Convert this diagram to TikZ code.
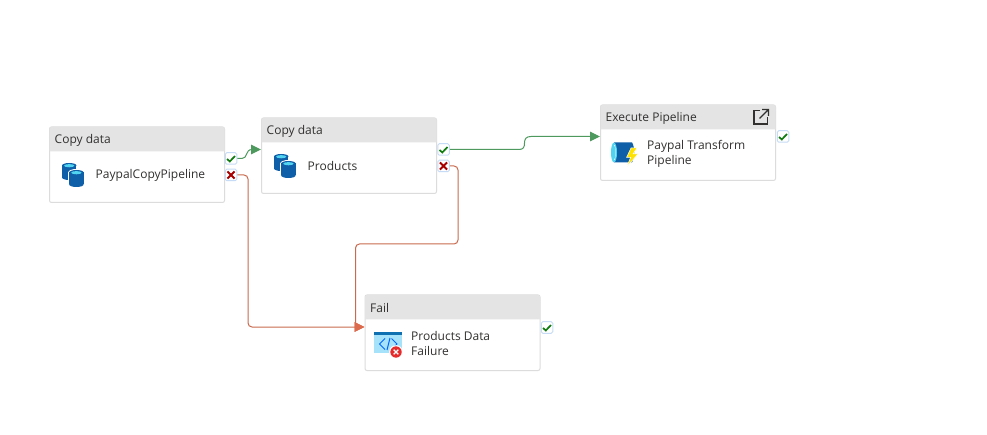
\documentclass[tikz,border=0pt]{standalone}
\usepackage{fontspec}
\setmainfont{Open Sans}
\usetikzlibrary{arrows.meta,calc}
\definecolor{hdr}{HTML}{E4E4E4}
\definecolor{edge}{HTML}{DCDCDC}
\definecolor{ink}{HTML}{323130}
\definecolor{okc}{HTML}{107C10}
\definecolor{badc}{HTML}{A80000}
\definecolor{okline}{HTML}{4E9A5E}
\definecolor{failline}{HTML}{C96A4E}
\definecolor{failhead}{HTML}{DB6B4C}
\definecolor{cyl}{HTML}{0F5FA8}
\definecolor{cyltop}{HTML}{50D4F0}
\definecolor{badgeedge}{HTML}{C6DBF5}
\tikzset{
  x=1pt,y=-1pt,
  actbox/.style={draw=edge,line width=1pt,fill=white,rounded corners=2pt,minimum width=175pt,minimum height=75.5pt,inner sep=0pt,anchor=north west},
  hdrtxt/.style={anchor=west,font=\fontsize{12}{14}\selectfont,text=ink,inner sep=0pt},
  bodytxt/.style={anchor=west,align=left,font=\fontsize{12}{15}\selectfont,text=ink,inner sep=0pt},
  badge/.style={draw=badgeedge,fill=white,line width=1pt,rounded corners=1.5pt,minimum size=11.5pt,inner sep=0pt},
  okpath/.style={draw=okline,line width=1pt},
  failpath/.style={draw=failline,line width=1pt,rounded corners=4pt},
  okarrow/.style={okpath,-{Triangle[length=10pt,width=9.5pt]}},
  failarrow/.style={failpath,-{Triangle[length=10pt,width=9.5pt,color=failhead]}},
}
\newcommand{\hdrband}[1]{%
  \fill[hdr,rounded corners=1.5pt] ([xshift=.5pt,yshift=-25pt]#1.north west) [sharp corners] -- ([xshift=.5pt,yshift=-12pt]#1.north west) [rounded corners=1.5pt] -- ([xshift=.5pt,yshift=-.5pt]#1.north west)
    -- ([xshift=-.5pt,yshift=-.5pt]#1.north east) -- ([xshift=-.5pt,yshift=-12pt]#1.north east) [sharp corners] -- ([xshift=-.5pt,yshift=-25pt]#1.north east) -- cycle;}
\newcommand{\okmark}[1]{\draw[okc,line width=1.7pt] ($(#1)+(-4,0.5)$) -- ($(#1)+(-1.2,3)$) -- ($(#1)+(4,-2.5)$);}
\newcommand{\badmark}[1]{\draw[badc,line width=1.9pt] ($(#1)+(-3.6,-3.6)$) -- ($(#1)+(3.6,3.6)$) ($(#1)+(3.6,-3.6)$) -- ($(#1)+(-3.6,3.6)$);}
\newcommand{\onecyl}[2]{%
  \begin{scope}[shift={(#1,#2)}]
    \fill[white] (-1,2.5) rectangle (15.4,14.5);
    \fill[white] (7.2,14.5) ellipse[x radius=8.2,y radius=3.5];
    \fill[white] (7.2,2.5) ellipse[x radius=8.2,y radius=3.5];
    \fill[cyl] (0,2.5) rectangle (14.4,14.5);
    \fill[cyl] (7.2,14.5) ellipse[x radius=7.2,y radius=2.5];
    \fill[cyl] (7.2,2.5) ellipse[x radius=7.2,y radius=2.5];
    \fill[cyltop] (7.2,2.7) ellipse[x radius=5.2,y radius=1.6];
  \end{scope}}
\newcommand{\cylpair}[2]{\onecyl{#1}{#2}\onecyl{#1+7.2}{#2+7}}
\begin{document}
\begin{tikzpicture}
\useasboundingbox (0,0) rectangle (987,435);
\fill[white] (0,0) rectangle (987,435);
% activities
\node[actbox] (a) at (49,126.5) {};
\node[actbox] (b) at (261,117.5) {};
\node[actbox] (c) at (600,104.5) {};
\node[actbox] (d) at (364.5,294.5) {};
\hdrband{a}\hdrband{b}\hdrband{c}\hdrband{d}
\node[hdrtxt] (at) at (54.5,140.5) {Copy data};
\node[hdrtxt] (bt) at (266.5,131.5) {Copy data};
\node[hdrtxt] (ct) at (605.5,118.5) {Execute Pipeline};
\node[hdrtxt] (dt) at (370,308) {Fail};
\node[bodytxt] (al) at (95.5,175.5) {PaypalCopyPipeline};
\node[bodytxt] (bl) at (307.5,166.5) {Products};
\node[bodytxt] (cl) at (647,153.5) {Paypal Transform\\Pipeline};
\node[bodytxt] (dl) at (411,343.5) {Products Data\\Failure};
% badges
\node[badge] (aok) at (231,158.5) {};
\node[badge] (abad) at (231,175) {};
\node[badge] (bok) at (443.5,149.5) {};
\node[badge] (bbad) at (443.5,166) {};
\node[badge] (cok) at (783,136.5) {};
\node[badge] (dok) at (547,327.5) {};
\okmark{aok}\okmark{bok}\okmark{cok}\okmark{dok}
\badmark{abad}\badmark{bbad}
% connector ends
\coordinate (ain) at (b.north west |- 0,149.5);
\coordinate (cin) at (c.north west |- 0,136.5);
\coordinate (din) at (d.north west |- 0,327);
% connectors
\draw[okarrow] (aok.east) -- (242,158.5) .. controls (248,158.5) and (245,149.5) .. (252,149.5) -- (ain);
\draw[okarrow] (bok.east) -- (519,149.5) .. controls (523.5,149.5) and (524.5,147) .. (524.5,143) .. controls (524.5,139) and (526,136.5) .. (531,136.5) -- (cin);
\draw[failarrow] (abad.east) -| (248,327) -- (din);
\draw[failarrow] (bbad.east) -| (458,244) -| (355.5,327) -- (din);
% cylinders
\cylpair{62}{163}
\cylpair{274}{154}
% pipeline icon
\begin{scope}[shift={(611,142)}]
  \fill[cyl] (3,0.5) -- (21,0.5) .. controls (24,5) and (24,15) .. (21,20.5) -- (3,20.5) -- cycle;
  \fill[cyltop] (3,10.5) ellipse[x radius=3,y radius=10];
  \fill[white] (3.4,10.5) ellipse[x radius=1.2,y radius=7.5];
  \fill[cyltop] (2.8,10.5) ellipse[x radius=1.6,y radius=7];
  \fill[yellow!85!orange,draw=white,line width=.5pt] (20,6) -- (15.5,15.5) -- (19.5,15.5) -- (16,24.5) -- (27,12) -- (22,12) -- (26,6) -- cycle;
\end{scope}
% fail icon
\begin{scope}[shift={(374,332)}]
  \fill[cyan!35!white] (0,0) rectangle (28,21);
  \fill[cyl!90!cyan] (0,0) rectangle (28,3);
  \draw[blue!60!cyan,line width=1pt] (11,6.5) -- (5.5,12) -- (11,17.5) (17.5,6.5) -- (23,12) -- (17.5,17.5) (16,6) -- (13,18);
  \fill[white] (22,20) circle[radius=6.8];
  \fill[red!75!pink!90!black] (22,20) circle[radius=5.7];
  \draw[white,line width=1.3pt] (19.7,17.7) -- (24.3,22.3) (24.3,17.7) -- (19.7,22.3);
\end{scope}
% external link icon
\draw[ink,line width=1.1pt] (760,110.5) -- (754,110.5) -- (754,124) -- (767.5,124) -- (767.5,117.5);
\draw[ink,line width=1.1pt] (759.5,118.5) -- (768.5,109.5) (762,109.5) -- (768.5,109.5) -- (768.5,116);
\end{tikzpicture}
\end{document}
